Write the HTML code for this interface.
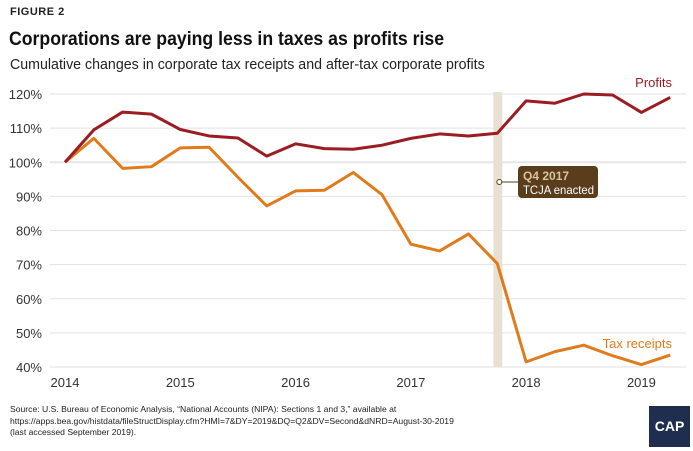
<!DOCTYPE html>
<html><head><meta charset="utf-8"><style>
body{margin:0;background:#fff;font-family:"Liberation Sans",sans-serif;}
#wrap{position:relative;width:693px;height:451px;overflow:hidden;}
.t{position:absolute;white-space:nowrap;}
</style></head><body>
<div id="wrap">
<div class="t" style="left:10px;top:6px;font-size:11px;font-weight:bold;letter-spacing:0.5px;color:#222;">FIGURE 2</div>
<div class="t" style="left:9px;top:29px;font-size:19px;font-weight:bold;color:#111;transform:scaleX(0.93);transform-origin:0 0;">Corporations are paying less in taxes as profits rise</div>
<div class="t" style="left:10px;top:57px;font-size:14.5px;color:#222;transform:scaleX(0.98);transform-origin:0 0;">Cumulative changes in corporate tax receipts and after-tax corporate profits</div>
<svg id="chart" width="693" height="400" style="position:absolute;left:0;top:0"></svg>
<div class="t" style="left:10px;top:404px;font-size:8.6px;line-height:11.5px;color:#222;">Source: U.S. Bureau of Economic Analysis, “National Accounts (NIPA): Sections 1 and 3,” available at<br>https://apps.bea.gov/histdata/fileStructDisplay.cfm?HMI=7&amp;DY=2019&amp;DQ=Q2&amp;DV=Second&amp;dNRD=August-30-2019<br>(last accessed September 2019).</div>
<div style="position:absolute;left:649px;top:406px;width:41px;height:41px;background:#1f2d4e;color:#fff;font-weight:bold;font-size:14px;text-align:center;line-height:41px;">CAP</div>
</div>
<script>
const quarters=["2014Q1","2014Q2","2014Q3","2014Q4","2015Q1","2015Q2","2015Q3","2015Q4","2016Q1","2016Q2","2016Q3","2016Q4","2017Q1","2017Q2","2017Q3","2017Q4","2018Q1","2018Q2","2018Q3","2018Q4","2019Q1","2019Q2"];
const profits=[100,109.5,114.7,114.1,109.6,107.7,107.1,101.8,105.4,104,103.8,105,107,108.3,107.7,108.5,118,117.3,120,119.7,114.6,119];
const taxReceipts=[100,107,98.2,98.7,104.2,104.4,95.6,87.2,91.6,91.8,97,90.5,76,74,79,70.3,41.5,44.5,46.4,43.3,40.7,43.5];
const yTicks=[40,50,60,70,80,90,100,110,120];
const xTickLabels=["2014","2015","2016","2017","2018","2019"];
const eventIndex=15;
const NS="http://www.w3.org/2000/svg";
const svg=document.getElementById('chart');
const x=i=>65+i*28.82;
const y=v=>367-(v-40)*3.4125;
function mk(tag,attrs,parent){const e=document.createElementNS(NS,tag);for(const k in attrs)e.setAttribute(k,attrs[k]);(parent||svg).appendChild(e);return e;}
yTicks.forEach(v=>{
 const g=mk('line',{x1:50,x2:686,y1:y(v),y2:y(v),stroke:v===100?'#e6e6e6':'#e2e2e2','stroke-width':v===100?2:1});
 
 
 const t=mk('text',{x:42,y:y(v)+5,'text-anchor':'end','font-size':13,fill:'#333','font-family':'Liberation Sans'});
 t.textContent=v+'%';
 
 
});
xTickLabels.forEach((l,k)=>{
 const t=mk('text',{x:x(k*4),y:387,'text-anchor':'middle','font-size':13,fill:'#333','font-family':'Liberation Sans'});
 t.textContent=l;
 
 
});
const band=mk('rect',{x:x(eventIndex)-4,y:y(120)-2,width:9,height:y(40)-y(120)+2,fill:'#e8e1d3'});


function series(vals,color,name){
 const p=mk('polyline',{points:vals.map((v,i)=>x(i)+','+y(v)).join(' '),fill:'none',stroke:color,'stroke-width':3,'stroke-linejoin':'round'});
 
 
}
series(taxReceipts,'#e07b1c','tax-receipts-line');
series(profits,'#9b1c22','profits-line');
const lp=mk('text',{x:672,y:87,'text-anchor':'end','font-size':13,fill:'#9b1c22','font-family':'Liberation Sans'});
lp.textContent='Profits';


const lt=mk('text',{x:672,y:348,'text-anchor':'end','font-size':13,fill:'#e07b1c','font-family':'Liberation Sans'});
lt.textContent='Tax receipts';


const cx=x(eventIndex)+2;
const ln=mk('line',{x1:cx,x2:520,y1:182,y2:182,stroke:'#5a3d1a','stroke-width':1});


const dot=mk('circle',{cx:cx,cy:182,r:2.5,fill:'#fff',stroke:'#5a3d1a','stroke-width':1});


const box=mk('rect',{x:518,y:166,width:80,height:32,rx:4,fill:'#5a3d1a'});


const a1=mk('text',{x:523,y:180,'font-size':12,'font-weight':'bold',fill:'#d9c3a0','font-family':'Liberation Sans'});
a1.textContent='Q4 2017';


const a2=mk('text',{x:523,y:194,'font-size':12,fill:'#fff','font-family':'Liberation Sans',textLength:71,lengthAdjust:'spacingAndGlyphs'});
a2.textContent='TCJA enacted';


</script>
</body></html>
